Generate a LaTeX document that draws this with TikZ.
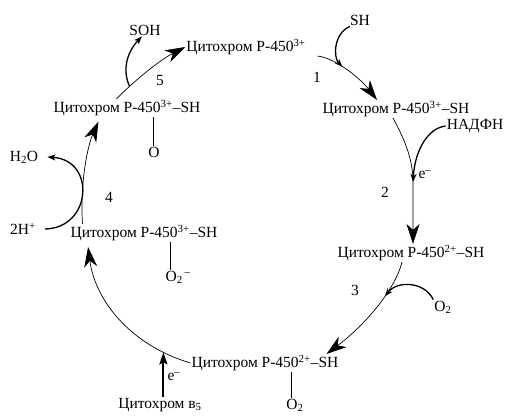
\documentclass[tikz,border=0pt]{standalone}
\usepackage{fontspec}
\setmainfont{Liberation Serif}
\usetikzlibrary{arrows.meta}

\begin{document}
\begin{tikzpicture}[x=1pt,y=-1pt,every node/.style={inner sep=1pt,font=\fontsize{15.5}{18}\selectfont},
  main/.style={line width=0.7pt,-{Stealth[length=20pt,width=13pt,inset=6pt]}},
  side/.style={line width=1.3pt,-{Stealth[length=8pt,width=6pt,inset=2pt]}},
  bond/.style={line width=0.7pt}]
  \useasboundingbox (0,0) rectangle (505,416);
  \node (c1) at (246,47) {Цитохром P-450\textsuperscript{3+}}; \node (c2) at (396,109) {Цитохром P-450\textsuperscript{3+}–SH};
  \node (c3) at (411,253) {Цитохром P-450\textsuperscript{2+}–SH}; \node (c4) at (265,363) {Цитохром P-450\textsuperscript{2+}–SH};
  \node (c5) at (144,233) {Цитохром P-450\textsuperscript{3+}–SH}; \node (c6) at (127,108) {Цитохром P-450\textsuperscript{3+}–SH};
  \node (sh) at (360,20) {SH}; \node (nadph) at (475,126) {НАДФН}; \node (o2a) at (443,307) {O\textsubscript{2}};
  \node (o4) at (295,405) {O\textsubscript{2}}; \node (o5) at (178,277) {O\textsubscript{2}\textsuperscript{\,–}}; \node (o6) at (154,152) {O};
  \node (b5) at (160,405) {Цитохром в\textsubscript{5}}; \node (h2o) at (24,157) {H\textsubscript{2}O}; \node (hplus) at (23,229) {2H\textsuperscript{+}};
  \node (soh) at (145,30) {SOH};
  \node (n1) at (317,77) {1}; \node (n2) at (385,192) {2}; \node (n3) at (355,290) {3}; \node (n4) at (109,197) {4}; \node (n5) at (160,80) {5};
  \node (e1) at (425,175) {e\textsuperscript{–}}; \node (e2) at (174,377) {e\textsuperscript{–}};
  % cycle
  \draw[main] ([xshift=11]c1.south east) .. controls (335,58) and (360,78) .. ([xshift=-19]c2.north) coordinate[pos=.42] (j1);
  \draw[main] ([xshift=-3]c2.south) .. controls (405,140) and (413,160) .. (413,182) coordinate (j2) -- ([xshift=2]c3.north);
  \draw[main] ([xshift=-9]c3.south) .. controls (395,290) and (365,325) .. ([xshift=-13]c4.north east) coordinate[pos=.38] (j3);
  \draw[main,shorten >=5pt] (c4.west) .. controls (130,345) and (95,300) .. ([xshift=18]c5.south west) coordinate[pos=.16] (j4);
  \draw[main,shorten >=5pt] ([xshift=13]c5.north west) .. controls (80,180) and (88,145) .. ([xshift=48]c6.south west);
  \draw[main] ([xshift=64]c6.north west) .. controls (135,80) and (160,60) .. (c1.west) coordinate[pos=.22] (j5);
  % side arrows
  \draw[side] ([xshift=1]sh.south west) .. controls (334,33) and (333,57) .. (j1);
  \draw[side] (nadph.west) .. controls (428,128) and (415,150) .. (j2);
  \draw[side] (o2a.north west) .. controls (425,282) and (398,280) .. (j3);
  \draw[line width=2pt,-{Stealth[length=12pt,width=8pt,inset=2pt]}] (j4 |- b5.north) -- (j4);
  \draw[side] ([xshift=8]hplus.east) .. controls (92,228) and (96,160) .. ([xshift=8]h2o.east);
  \draw[side] (j5) .. controls (122,70) and (127,52) .. ([xshift=-3]soh.south);
  % bonds
  \draw[bond] ([xshift=101]c6.south west) -- ([xshift=101]c6.south west |- o6.north);
  \draw[bond] ([xshift=101]c5.south west) -- ([xshift=101]c5.south west |- o5.north);
  \draw[bond] ([xshift=101]c4.south west) -- ([xshift=101]c4.south west |- o4.north);
\end{tikzpicture}
\end{document}
